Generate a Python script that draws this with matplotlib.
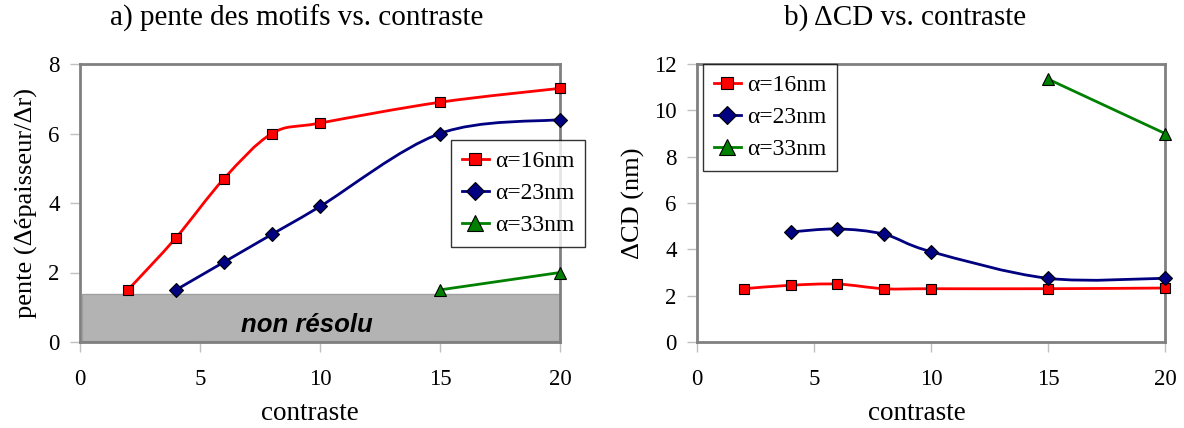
import numpy as np
import matplotlib
matplotlib.use("Agg")
from matplotlib import pyplot as plt
from matplotlib.path import Path
from matplotlib.patches import PathPatch, Rectangle
from matplotlib.lines import Line2D

plt.rcParams['font.family'] = ['Liberation Serif', 'DejaVu Serif']

# a) pente des motifs
x16 = [2, 4, 6, 8, 10, 15, 20]
pente16 = [1.5, 3.0, 4.7, 6.0, 6.3, 6.9, 7.3]
x23 = [4, 6, 8, 10, 15, 20]
pente23 = [1.5, 2.3, 3.1, 3.9, 6.0, 6.4]
x33 = [15, 20]
pente33 = [1.5, 2.0]
non_resolu = 1.38

# b) delta CD
dcd16 = [2.3, 2.45, 2.5, 2.3, 2.3, 2.3, 2.33]
dcd23 = [4.75, 4.88, 4.65, 3.9, 2.75, 2.75]
dcd33 = [11.35, 9.0]

labels = ["\u03b1=16nm", "\u03b1=23nm", "\u03b1=33nm"]
styles = [("#ff0000", "s", 7), ("#000080", "D", 7), ("#008000", "^", 9)]
GREY = "#808080"
W, H = 1184, 428


def smooth_path(x, y):
    # excel-like smoothed line as bezier segments
    p = np.column_stack([x, y]).astype(float)
    if len(p) < 3:
        return Path(p)
    verts = [p[0]]
    codes = [Path.MOVETO]
    n = len(p)
    for i in range(n - 1):
        p0 = p[i - 1] if i > 0 else p[i]
        p3 = p[i + 2] if i + 2 < n else p[i + 1]
        c1 = p[i] + (p[i + 1] - p0) / 6
        c2 = p[i + 1] - (p3 - p[i]) / 6
        verts += [c1, c2, p[i + 1]]
        codes += [Path.CURVE4] * 3
    return Path(verts, codes)


def draw_series(ax, x, y, color, marker, ms, smooth=True):
    if smooth:
        ax.add_patch(PathPatch(smooth_path(x, y), fill=False, edgecolor=color, lw=2, zorder=3))
    else:
        ax.plot(x, y, color=color, lw=2, zorder=3)
    ax.plot(x, y, ls="none", marker=marker, ms=ms, mfc=color, mec="#000000", mew=0.8,
            zorder=4, clip_on=False)


def style_axes(ax, ymax, ystep):
    ax.set_xlim(0, 20)
    ax.set_ylim(0, ymax)
    ax.set_xticks(np.arange(0, 21, 5))
    ax.set_yticks(np.arange(0, ymax + 0.1, ystep))
    for s in ax.spines.values():
        s.set_color(GREY)
        s.set_linewidth(2)
    ax.tick_params(colors="#c0c0c0", labelcolor="black", labelsize=16.5, length=7.5,
                   width=1, direction="out")
    ax.tick_params(axis="x", pad=12)
    ax.tick_params(axis="y", pad=7)


def add_legend(ax, anchor):
    handles = [Line2D([], [], color=c, lw=2, marker=m, ms=ms + 2, mfc=c, mec="#000000", mew=0.8)
               for c, m, ms in styles]
    leg = ax.legend(handles, labels, loc="upper left", bbox_to_anchor=anchor, fontsize=17,
                    frameon=True, fancybox=False, edgecolor="#000000", handlelength=1.15,
                    handletextpad=0.25, borderpad=0.45, labelspacing=0.45, borderaxespad=0)
    leg.get_frame().set_linewidth(1)
    leg.set_zorder(10)


fig = plt.figure(figsize=(W / 100, H / 100), dpi=100)
ax1 = fig.add_axes([80 / W, 1 - 342 / H, 480 / W, 278 / H])
ax2 = fig.add_axes([697 / W, 1 - 342 / H, 468 / W, 278 / H])

# left panel
ax1.add_patch(Rectangle((0.1, 0.03), 19.9, non_resolu - 0.03, facecolor="#b3b3b3",
                        edgecolor="#a0a0a0", lw=1, zorder=2))
ax1.text(9.45, 0.5, "non r\u00e9solu", family="Liberation Sans", style="italic",
         weight="bold", fontsize=18.5, ha="center", va="center", zorder=5)
for (c, m, ms), x, y in zip(styles, [x16, x23, x33], [pente16, pente23, pente33]):
    draw_series(ax1, x, y, c, m, ms, smooth=len(x) > 2)
style_axes(ax1, 8, 2)
add_legend(ax1, ((451 - 80) / 480, 1 - (140 - 64) / 278))

# right panel
for (c, m, ms), x, y in zip(styles, [x16, x23, x33], [dcd16, dcd23, dcd33]):
    draw_series(ax2, x, y, c, m, ms, smooth=len(x) > 2)
style_axes(ax2, 12, 2)
add_legend(ax2, (6 / 468, 1))

# titles and axis labels
fig.text(297 / W, 1 - 18 / H, "a) pente des motifs vs. contraste", fontsize=21,
         ha="center", va="center")
fig.text(905 / W, 1 - 18 / H, "b) \u0394CD vs. contraste", fontsize=21,
         ha="center", va="center")
fig.text(310 / W, 1 - 414 / H, "contraste", fontsize=19.5, ha="center", va="center")
fig.text(917 / W, 1 - 414 / H, "contraste", fontsize=19.5, ha="center", va="center")
fig.text(26 / W, 1 - 203 / H, "pente (\u0394\u00e9paisseur/\u0394r)", fontsize=19,
         rotation=90, ha="center", va="center")
fig.text(633 / W, 1 - 203 / H, "\u0394CD (nm)", fontsize=19,
         rotation=90, ha="center", va="center")

fig.savefig("out.png", dpi=100)
